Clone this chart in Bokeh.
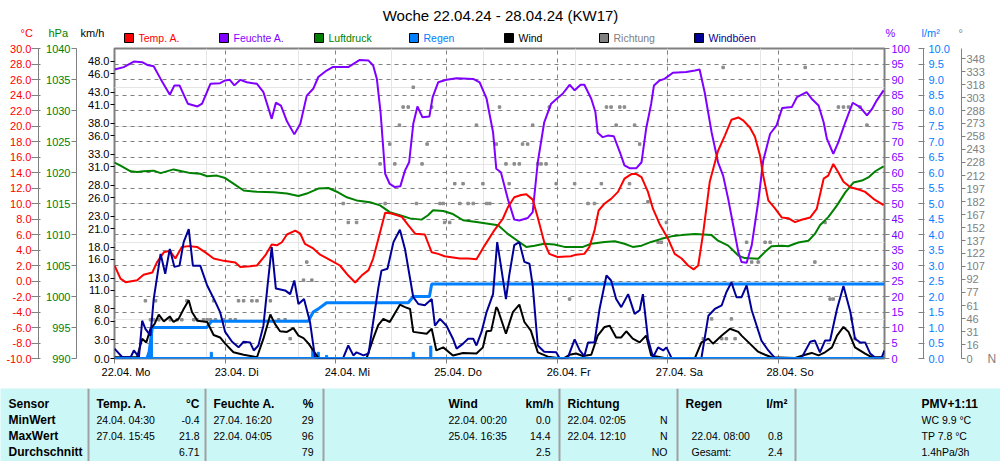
from bokeh.plotting import figure
from bokeh.models import (Range1d, LinearAxis, FixedTicker, NumeralTickFormatter, Grid,
                          Span, ColumnDataSource)
from bokeh.layouts import column
from bokeh.embed import file_html
from bokeh.resources import INLINE
from bokeh.core.properties import value

FONT = "Liberation Sans"
RED, PURPLE, GREEN, BLUE = "#FF0000", "#8000FF", "#008000", "#0080FF"
BLACK, GREY, NAVY = "#000000", "#808080", "#000099"
CYAN = "#CCF7F7"

TITLE = "Woche 22.04.24 - 28.04.24 (KW17)"

# ---------------- data (hours since 22.04. 00:00) ----------------
hum_h = [0, 2.0, 4.2, 6.0, 7.1, 8.5, 10.0, 12.0, 13.0, 14.1, 15.9, 18.0, 19.0, 20.8, 22.9, 24.0, 25.0,
         26.0, 27.3, 28.7, 30.9, 32.3, 34.1, 35.0, 36.1, 37.4, 39.0, 40.3, 41.7, 43.1, 44.2, 46.0, 47.3,
         50.7, 53.2, 55.1, 56.1, 56.9, 57.7, 58.7, 59.7, 60.8, 62.0, 63.0, 63.9, 64.8, 65.7, 66.8, 68.3,
         69.0, 70.2, 72.0, 74.2, 77.8, 79.2, 80.7, 82.1, 82.8, 83.8, 85.3, 86.7, 87.8, 89.6, 90.7, 91.8,
         93.2, 94.7, 96.1, 97.2, 98.7, 99.8, 101.1, 101.9, 103.4, 104.3, 104.8, 105.9, 107.0, 108.3,
         109.6, 110.6, 111.7, 113.2, 114.3, 115.3, 116.4, 117.0, 118.2, 119.3, 121.1, 124.0, 125.9,
         126.9, 128.0, 129.5, 130.9, 132.0, 133.1, 134.2, 135.3, 136.0, 137.1, 138.2, 139.6, 140.7,
         142.2, 143.6, 144.8, 146.9, 148.0, 150.1, 151.2, 152.7, 153.8, 154.5, 155.9, 157.0, 158.5,
         160.1, 161.7, 163.2, 164.3, 165.3, 166.8]
hum_v = [93.2, 94.0, 95.8, 95.6, 94.7, 94.3, 90.2, 85.1, 88.1, 88.1, 82.2, 81.3, 82.2, 88.6, 88.8, 89.7,
         89.9, 88.1, 89.9, 89.1, 88.6, 85.9, 77.3, 82.5, 81.6, 76.5, 72.3, 75.7, 84.8, 87.0, 90.8, 92.9,
         94.0, 94.0, 96.3, 96.1, 94.5, 90.2, 79.5, 59.6, 56.3, 55.3, 55.6, 60.6, 63.3, 75.7, 81.3, 77.8,
         78.1, 84.3, 89.1, 89.9, 90.4, 90.2, 89.1, 83.8, 73.0, 61.2, 60.1, 51.5, 44.8, 44.5, 45.3, 47.2,
         63.3, 76.2, 82.2, 84.0, 85.4, 88.3, 86.5, 88.3, 88.3, 83.8, 79.5, 72.8, 71.4, 71.9, 71.7, 66.6,
         62.3, 61.4, 61.4, 63.3, 74.1, 82.2, 88.1, 89.7, 90.2, 92.2, 92.4, 92.9, 93.2, 85.9, 73.0, 63.3,
         59.0, 51.5, 42.9, 34.3, 31.1, 30.9, 36.5, 50.4, 63.9, 72.5, 75.2, 80.8, 81.1, 84.3, 85.9, 83.8,
         81.6, 76.2, 70.9, 66.0, 69.8, 76.2, 82.5, 81.1, 78.4, 80.5, 83.2, 86.5]

temp_h = [0, 1.3, 2.4, 4.9, 6.3, 8.2, 9.2, 10.7, 12.0, 13.2, 14.6, 16.1, 17.9, 19.7, 21.5, 23.7, 26.2,
          27.3, 29.4, 30.9, 32.7, 34.1, 35.2, 36.3, 37.4, 39.2, 40.3, 41.3, 43.1, 44.6, 46.8, 48.9, 50.7,
          52.2, 53.6, 55.1, 56.1, 57.6, 58.7, 60.1, 62.3, 63.7, 65.2, 67.3, 68.8, 70.2, 71.6, 74.9, 76.7,
          78.5, 80.3, 82.1, 83.2, 84.2, 85.3, 86.7, 88.2, 89.3, 90.7, 91.8, 93.2, 94.3, 96.1, 99.0, 100.1,
          101.9, 103.0, 104.1, 105.0, 106.3, 107.7, 109.2, 110.6, 112.1, 113.2, 114.3, 115.7, 116.8, 118.2,
          120.1, 121.5, 123.0, 124.4, 125.6, 126.6, 127.7, 129.1, 130.9, 132.4, 133.8, 135.3, 136.4, 137.8,
          138.9, 140.0, 140.7, 141.8, 143.2, 144.7, 146.1, 147.6, 149.0, 150.9, 152.3, 153.8, 154.8, 155.9,
          157.0, 158.1, 159.6, 161.4, 162.8, 164.6, 166.8]
temp_v = [2.0, 0.3, -0.15, 0.1, 0.8, 1.1, 2.4, 3.7, 3.9, 2.9, 4.4, 4.5, 4.4, 3.7, 2.9, 2.6, 2.4, 1.8, 1.9,
          2.0, 3.3, 4.7, 4.6, 5.0, 6.0, 6.5, 6.1, 4.8, 4.2, 3.4, 2.7, 2.0, 0.7, -0.2, 0.7, 1.4, 2.9, 6.3,
          8.8, 8.7, 8.3, 7.2, 6.1, 6.0, 3.7, 3.5, 3.2, 2.9, 2.9, 2.8, 4.6, 6.3, 7.2, 8.0, 9.5, 10.8, 11.1,
          11.2, 10.5, 8.2, 5.0, 3.5, 3.1, 3.2, 3.4, 3.5, 4.4, 6.5, 9.1, 10.0, 10.6, 11.5, 13.2, 13.8, 13.8,
          13.4, 11.5, 9.3, 7.4, 5.4, 3.5, 2.9, 2.0, 1.5, 2.0, 6.3, 12.8, 16.8, 18.8, 20.8, 21.1, 20.7, 19.8,
          18.6, 16.2, 13.6, 10.4, 9.4, 8.2, 8.1, 7.6, 7.9, 8.2, 9.3, 13.2, 13.6, 15.1, 14.0, 12.8, 12.1,
          11.8, 11.5, 10.6, 9.8]

press_h = [0, 1.3, 3.5, 4.9, 6.3, 8.5, 10.0, 12.8, 14.6, 16.5, 18.6, 20.1, 22.2, 24.0, 25.8, 28.0, 30.9,
           34.5, 37.4, 39.9, 41.7, 44.2, 46.4, 48.2, 50.4, 52.5, 55.4, 57.6, 59.7, 61.9, 64.1, 66.6, 68.0,
           69.1, 71.3, 73.4, 75.6, 78.5, 81.4, 83.2, 85.3, 87.4, 89.3, 91.1, 93.2, 95.4, 97.6, 101.6, 103.4,
           106.3, 108.5, 110.6, 112.4, 114.3, 116.4, 118.6, 120.8, 123.0, 125.9, 129.5, 130.9, 133.1, 135.3,
           136.7, 139.6, 141.1, 142.5, 144.7, 146.1, 148.3, 150.5, 151.9, 153.0, 154.8, 156.7, 158.5, 160.3,
           162.1, 163.5, 165.0, 166.8]
press_v = [1021.6, 1021.1, 1020.2, 1020.1, 1020.2, 1020.3, 1019.9, 1020.5, 1020.2, 1019.9, 1019.8, 1019.4,
           1019.5, 1019.1, 1018.2, 1017.1, 1016.9, 1016.8, 1016.6, 1016.2, 1016.6, 1017.4, 1017.5, 1016.9,
           1016.0, 1015.5, 1015.2, 1014.7, 1013.6, 1013.1, 1012.6, 1012.4, 1013.1, 1013.9, 1013.8, 1013.3,
           1012.3, 1012.0, 1011.7, 1011.5, 1010.1, 1009.0, 1008.0, 1008.2, 1008.5, 1008.4, 1008.0, 1008.0,
           1008.5, 1008.8, 1008.9, 1008.5, 1008.0, 1008.2, 1008.8, 1009.3, 1009.7, 1009.9, 1010.1, 1009.9,
           1009.0, 1008.2, 1006.6, 1006.2, 1006.1, 1007.2, 1008.1, 1008.2, 1008.1, 1008.7, 1009.0, 1010.1,
           1011.5, 1012.8, 1014.7, 1016.8, 1018.4, 1018.7, 1019.2, 1020.2, 1021.0]

wind_h = [0, 2.7, 4.9, 6.0, 6.9, 7.8, 8.7, 9.6, 10.7, 12.0, 12.8, 13.9, 15.0, 16.1, 16.8, 18.0, 20.1, 21.5,
          22.9, 24.0, 25.8, 28.0, 30.9, 32.3, 33.8, 34.8, 35.9, 37.4, 38.8, 39.9, 41.0, 42.1, 43.1, 44.2,
          49.6, 54.7, 56.1, 57.2, 58.3, 59.7, 61.9, 63.0, 64.1, 64.8, 67.7, 68.8, 69.8, 71.3, 73.4, 75.6,
          78.5, 79.9, 80.7, 81.7, 82.8, 83.1, 84.9, 86.4, 87.8, 88.9, 90.3, 91.8, 94.0, 96.1, 97.6, 98.7,
          100.1, 101.6, 103.4, 104.8, 106.3, 107.4, 108.8, 109.9, 111.0, 112.4, 113.9, 115.3, 116.4, 119.3,
          125.9, 127.3, 128.8, 129.8, 131.7, 133.5, 135.3, 136.0, 137.8, 139.6, 141.1, 142.5, 147.6, 149.8,
          151.2, 152.7, 154.1, 155.6, 156.7, 158.1, 159.2, 160.6, 162.8, 164.3, 166.8]
wind_v = [0.2, 0.2, 0.2, 3.2, 2.6, 4.8, 5.6, 7.1, 6.0, 6.8, 5.9, 6.4, 8.0, 9.4, 7.5, 6.1, 5.9, 3.8, 3.4,
          2.4, 1.0, 0.6, 0.2, 3.2, 7.1, 5.6, 4.4, 4.3, 4.9, 3.7, 3.3, 2.4, 1.3, 0.1, 0.1, 0.1, 3.2, 5.4,
          6.4, 5.9, 8.7, 8.3, 8.0, 4.3, 4.0, 4.8, 1.3, 1.8, 0.5, 0.9, 0.8, 1.8, 4.4, 4.5, 8.3, 8.0, 4.0,
          7.5, 8.7, 5.9, 4.5, 1.0, 0.3, 0.1, 0.1, 0.6, 0.8, 0.4, 0.6, 3.7, 5.1, 5.3, 3.4, 3.4, 4.4, 3.2,
          2.6, 3.7, 0.5, 0.1, 0.1, 2.6, 3.2, 2.4, 3.7, 4.8, 4.3, 3.7, 2.4, 1.1, 0.6, 0.2, 0.1, 0.6, 0.9,
          0.5, 1.0, 1.8, 3.7, 5.1, 4.3, 1.8, 0.8, 0.2, 0.2]

gust_h = [0, 1.7, 3.5, 4.2, 5.3, 6.0, 6.7, 7.8, 8.5, 10.0, 11.0, 12.0, 13.0, 14.1, 15.0, 16.1, 17.0, 18.6,
          20.1, 21.9, 22.9, 24.0, 25.5, 26.9, 28.0, 29.4, 30.2, 31.2, 32.3, 33.2, 34.1, 35.0, 37.0, 38.1,
          39.0, 39.9, 41.1, 42.4, 43.5, 49.6, 50.7, 51.8, 52.5, 54.0, 55.1, 56.1, 57.2, 57.9, 59.2, 60.5,
          61.9, 63.0, 64.8, 65.9, 67.3, 68.8, 69.5, 70.6, 72.0, 73.4, 74.2, 75.6, 76.7, 77.8, 78.5, 79.6,
          80.7, 82.1, 83.0, 83.8, 84.9, 85.6, 86.7, 87.8, 88.9, 90.0, 90.7, 91.8, 93.2, 95.8, 96.5, 98.3,
          99.8, 100.9, 101.9, 102.7, 104.1, 105.2, 106.7, 107.7, 108.8, 109.9, 111.4, 112.8, 113.9, 114.6,
          115.7, 116.8, 117.9, 119.0, 119.7, 120.8, 127.3, 128.8, 130.2, 131.7, 132.7, 133.8, 134.9, 136.0,
          137.1, 138.2, 140.3, 141.8, 143.2, 149.0, 150.9, 151.9, 153.0, 154.1, 155.2, 156.7, 158.1, 159.6,
          160.6, 161.7, 162.8, 163.9, 165.0, 166.4, 167.0]
gust_v = [1.6, 0.2, 0.2, 1.3, 0.2, 6.1, 4.8, 3.7, 9.6, 16.9, 13.7, 17.7, 14.8, 15.0, 18.8, 20.9, 15.0, 15.0,
          11.8, 9.1, 7.5, 4.3, 2.7, 1.8, 2.7, 2.6, 1.3, 2.1, 5.3, 11.8, 18.0, 11.3, 11.0, 10.4, 12.6, 8.8,
          9.6, 5.9, 0.1, 0.1, 2.1, 0.5, 1.0, 0.5, 0.8, 5.9, 11.3, 14.2, 14.5, 18.8, 20.8, 17.7, 9.9, 8.8,
          8.6, 9.6, 5.3, 6.4, 5.3, 3.2, 1.6, 2.4, 3.2, 3.2, 2.1, 4.3, 7.5, 10.4, 18.8, 15.0, 9.6, 13.4,
          18.3, 18.8, 15.6, 15.3, 11.8, 2.1, 1.1, 1.0, 0.1, 0.1, 3.1, 1.3, 0.4, 2.6, 2.6, 8.0, 13.4, 12.6,
          9.6, 8.3, 10.4, 7.2, 7.8, 10.4, 3.2, 0.2, 1.8, 1.3, 1.8, 0.1, 0.1, 6.9, 8.0, 8.6, 10.7, 12.3, 9.9,
          9.9, 11.8, 7.8, 2.9, 1.3, 0.1, 0.1, 2.7, 2.9, 1.0, 2.9, 2.9, 8.0, 11.7, 7.5, 3.2, 2.6, 2.6, 0.8,
          0.1, 0.2, 1.3]

rain_sum_h = [0, 7.0, 7.5, 8.2, 20.0, 21.0, 42.0, 43.1, 44.2, 46.0, 63.7, 64.8, 68.3, 68.8, 167]
rain_sum_v = [0, 0, 0.2, 1.0, 1.0, 1.2, 1.2, 1.5, 1.6, 1.8, 1.8, 2.0, 2.0, 2.4, 2.4]
rain_h = [7.5, 8.0, 21.0, 43.0, 44.2, 46.0, 64.8, 68.6]
rain_v = [0.2, 0.8, 0.2, 0.3, 0.2, 0.1, 0.2, 0.4]

dir_h = [6.7, 8.9, 7.8, 8.5, 9.6, 12.1, 13.6, 14.6, 15.7, 17.2, 17.9, 19.3, 20.1, 20.8, 21.5, 21.9, 23.7,
         25.1, 26.2, 26.9, 28.0, 29.8, 30.9, 33.8, 35.6, 37.0, 38.1, 41.0, 41.7, 42.8, 49.6, 50.7, 52.5,
         57.6, 58.7, 59.7, 60.8, 61.8, 62.6, 63.7, 64.8, 65.5, 66.7, 67.8, 68.8, 70.6, 71.3, 71.6, 72.7,
         73.8, 74.9, 75.6, 76.7, 77.8, 78.5, 79.9, 80.7, 81.4, 82.8, 83.5, 84.9, 85.6, 86.7, 87.8, 88.5,
         89.6, 90.7, 91.8, 92.5, 93.6, 94.3, 95.8, 98.7, 99.8, 102.7, 104.1, 105.6, 106.7, 107.7, 108.8,
         109.6, 110.6, 111.7, 112.8, 113.9, 115.7, 117.9, 118.6, 119.7, 127.7, 129.5, 131.7, 132.0, 132.7,
         133.8, 134.6, 137.1, 138.2, 139.6, 141.1, 142.2, 149.8, 151.9, 154.1, 155.2, 155.9, 157.0, 158.1,
         159.2, 159.9, 160.6, 161.7, 163.2]
dir_v = [67, 67, 45, 45, 45, 45, 45, 45, 67, 45, 45, 45, 45, 45, 67, 45, 45, 45, 45, 67, 67, 67, 67, 67,
         45, 45, 23, 91, 112, 91, 180, 158, 158, 226, 180, 249, 226, 271, 292, 292, 315, 180, 226, 249,
         292, 180, 180, 158, 158, 203, 180, 203, 180, 180, 271, 203, 180, 180, 249, 292, 226, 203, 226,
         226, 249, 249, 271, 226, 226, 226, 292, 203, 69, 203, 180, 180, 203, 292, 292, 271, 292, 292,
         203, 271, 249, 182, 135, 135, 158, 23, 46, 23, 338, 23, 46, 23, 135, 112, 112, 135, 135, 338,
         112, 158, 69, 69, 292, 292, 292, 46, 23, 292, 271]

# axes ticks / labels
temp_ticks = list(range(-10, 31, 2))
press_ticks = list(range(990, 1041, 5))
kmh_ticks = [0, 3, 6, 8, 11, 13, 16, 18, 21, 23, 26, 28, 31, 33, 36, 38, 41, 43, 46, 48]
hum_ticks = list(range(0, 101, 5))
rain_ticks = [i * 0.5 for i in range(21)]
dir_ticks = [0, 16, 31, 46, 61, 77, 92, 107, 122, 137, 152, 167, 182, 197, 212, 228, 243, 258, 273,
             288, 303, 318, 333, 348]
day_hours = [0, 24, 48, 72, 96, 120, 144]
day_labels = ["22.04. Mo", "23.04. Di", "24.04. Mi", "25.04. Do", "26.04. Fr", "27.04. Sa", "28.04. So"]

legend_names = ["Temp. A.", "Feuchte A.", "Luftdruck", "Regen", "Wind", "Richtung", "Windböen"]
legend_colors = [RED, PURPLE, GREEN, BLUE, BLACK, GREY, NAVY]
legend_text_colors = [RED, PURPLE, GREEN, BLUE, BLACK, GREY, NAVY]
unit_texts = ["°C", "hPa", "km/h", "%", "l/m²", "°"]
unit_colors = [RED, GREEN, BLACK, PURPLE, BLUE, GREY]

W = 1000
HEAD_H, OVERLAP, TABLE_H = 46, 16, 73
CHART_TOP = HEAD_H - OVERLAP          # page y where the chart canvas starts
CHART_H = 388 - CHART_TOP

# ---------------- header (title, units, legend) ----------------
hd = figure(width=W, height=HEAD_H, x_range=Range1d(0, W), y_range=Range1d(HEAD_H, 0),
            output_backend="svg", toolbar_location=None, x_axis_location=None, y_axis_location=None,
            min_border=0)
hd.frame_align = False
hd.outline_line_color = None
hd.xgrid.visible = False
hd.ygrid.visible = False
hd.text(x=[500], y=[15], text=[TITLE], text_font=value(FONT), text_font_size=value("15px"),
        text_align="center", text_baseline="middle", text_color=BLACK)
unit_x = [20, 48, 80, 885, 921, 958]
hd.text(x=unit_x, y=[32] * len(unit_x), text=unit_texts, text_color=unit_colors,
        text_font=value(FONT), text_font_size=value("11px"), text_align="left", text_baseline="middle")
leg_x = [124 + 95 * i for i in range(len(legend_names))]
hd.quad(left=leg_x, right=[x + 9 for x in leg_x], top=[33] * 7, bottom=[42] * 7,
        fill_color=legend_colors, line_color=BLACK, line_width=1)
hd.text(x=[x + 14 for x in leg_x], y=[37.5] * 7, text=legend_names, text_color=legend_text_colors,
        text_font=value(FONT), text_font_size=value("10.5px"), text_align="left", text_baseline="middle")

# ---------------- chart ----------------
p = figure(width=W, height=CHART_H, x_range=Range1d(0, 167), y_range=Range1d(-10, 30),
           output_backend="svg", toolbar_location=None, x_axis_location=None, y_axis_location=None,
           min_border_left=114, min_border_right=116, min_border_top=48 - CHART_TOP,
           min_border_bottom=30, margin=(-OVERLAP, 0, 0, 0))
p.frame_align = False
p.extra_y_ranges = {"wind": Range1d(0, 50.08), "press": Range1d(990, 1040), "hum": Range1d(0, 100),
                    "rain": Range1d(0, 10), "dir": Range1d(0, 360)}
p.outline_line_color = GREY
p.outline_line_width = 2
p.background_fill_color = "white"
p.border_fill_color = None

p.add_layout(Grid(dimension=1, ticker=FixedTicker(ticks=temp_ticks), grid_line_color=GREY,
                  grid_line_dash="4 4", grid_line_width=1))
p.add_layout(Grid(dimension=0, ticker=FixedTicker(ticks=day_hours[1:]), grid_line_color=GREY,
                  grid_line_dash="4 4", grid_line_width=1))


def style(ax, color, line_color, tick_color, tin, tout, standoff, pad=None, size="11px"):
    ax.major_label_text_color = color
    ax.major_label_text_font = FONT
    ax.major_label_text_font_size = size
    ax.axis_line_color = line_color
    ax.axis_line_width = 1
    ax.major_tick_line_color = tick_color
    ax.minor_tick_line_color = None
    ax.major_tick_in = tin
    ax.major_tick_out = tout
    ax.major_label_standoff = standoff
    if pad:
        ax.axis_label = " "
        ax.axis_label_text_color = None
        ax.axis_label_standoff = pad[0]
        ax.axis_label_text_font_size = "%dpx" % pad[1]


ax_kmh = LinearAxis(y_range_name="wind", ticker=FixedTicker(ticks=kmh_ticks),
                    formatter=NumeralTickFormatter(format="0.0"))
style(ax_kmh, BLACK, None, BLACK, 0, 4, 1, pad=(1, 4))
ax_hpa = LinearAxis(y_range_name="press", ticker=FixedTicker(ticks=press_ticks),
                    formatter=NumeralTickFormatter(format="0"))
style(ax_hpa, GREEN, GREY, GREY, 0, 5, 1, pad=(0, 1))
ax_c = LinearAxis(ticker=FixedTicker(ticks=temp_ticks), formatter=NumeralTickFormatter(format="0.0"))
style(ax_c, RED, GREY, GREY, 2, 7, 0)
p.add_layout(ax_kmh, "left")
p.add_layout(ax_hpa, "left")
p.add_layout(ax_c, "left")

ax_hum = LinearAxis(y_range_name="hum", ticker=FixedTicker(ticks=hum_ticks),
                    formatter=NumeralTickFormatter(format="0"))
style(ax_hum, PURPLE, None, GREY, 0, 5, 2, pad=(2, 5))
ax_rain = LinearAxis(y_range_name="rain", ticker=FixedTicker(ticks=rain_ticks),
                     formatter=NumeralTickFormatter(format="0.0"))
style(ax_rain, BLUE, GREY, GREY, 5, 1, 4, pad=(0, 5))
ax_dir = LinearAxis(y_range_name="dir", ticker=FixedTicker(ticks=dir_ticks),
                    formatter=NumeralTickFormatter(format="0"))
style(ax_dir, GREY, GREY, GREY, 0, 4, 1)
ax_n = LinearAxis(y_range_name="dir", ticker=FixedTicker(ticks=[0]), major_label_overrides={0: "N"})
style(ax_n, GREY, None, None, 0, 0, 0, size="12px")
p.add_layout(ax_hum, "right")
p.add_layout(ax_rain, "right")
p.add_layout(ax_dir, "right")
p.add_layout(ax_n, "right")

xa1 = LinearAxis(ticker=FixedTicker(ticks=day_hours))
style(xa1, None, None, GREY, 0, 5, 0)
xa1.major_label_text_font_size = "1px"
p.add_layout(xa1, "below")
label_pos = [h + 2.5 for h in day_hours]
xa2 = LinearAxis(ticker=FixedTicker(ticks=label_pos),
                 major_label_overrides={k: v for k, v in zip(label_pos, day_labels)})
style(xa2, BLACK, None, None, 0, 0, 2)
p.add_layout(xa2, "below")

# series
p.add_layout(Span(location=0, dimension="width", y_range_name="rain", line_color=BLUE, line_width=3))
p.vbar(x=rain_h, top=rain_v, bottom=0, width=0.45, y_range_name="rain", color=BLUE)
p.scatter(dir_h, dir_v, marker="square", size=2.5, color="#8C8C8C", y_range_name="dir")
p.line(press_h, press_v, y_range_name="press", color=GREEN, line_width=2)
p.line(hum_h, hum_v, y_range_name="hum", color=PURPLE, line_width=2)
p.line(temp_h, temp_v, color=RED, line_width=2)
p.line(rain_sum_h, rain_sum_v, y_range_name="rain", color=BLUE, line_width=3)
p.line(wind_h, wind_v, y_range_name="wind", color=BLACK, line_width=2)
p.line(gust_h, gust_v, y_range_name="wind", color=NAVY, line_width=2)

# ---------------- table ----------------
t = figure(width=W, height=TABLE_H, x_range=Range1d(0, W), y_range=Range1d(461, 388),
           output_backend="svg", toolbar_location=None, x_axis_location=None, y_axis_location=None,
           min_border=0)
t.frame_align = False
t.outline_line_color = None
t.background_fill_color = CYAN
t.border_fill_color = CYAN
t.xgrid.visible = False
t.ygrid.visible = False
seps = [88, 205, 323, 559, 677, 795]
t.segment(x0=seps, y0=[388] * 6, x1=seps, y1=[461] * 6, color="#A0A0A0", line_width=2)

R = [403, 419, 435, 451]
bold_left = [("Sensor", 8, 0), ("MinWert", 8, 1), ("MaxWert", 8, 2), ("Durchschnitt", 8, 3),
             ("Temp. A.", 96, 0), ("Feuchte A.", 213, 0), ("Wind", 448, 0), ("Richtung", 567, 0),
             ("Regen", 685, 0), ("PMV+1:11", 921, 0)]
bold_right = [("°C", 199, 0), ("%", 313, 0), ("km/h", 553, 0), ("l/m²", 787, 0)]
reg_left = [("24.04. 04:30", 96, 1), ("27.04. 15:45", 96, 2), ("27.04. 16:20", 213, 1),
            ("22.04. 04:05", 213, 2), ("22.04. 00:20", 448, 1), ("25.04. 16:35", 448, 2),
            ("22.04. 02:05", 567, 1), ("22.04. 12:10", 567, 2), ("22.04. 08:00", 691, 2),
            ("Gesamt:", 691, 3), ("WC 9.9 °C", 921, 1), ("TP 7.8 °C", 921, 2), ("1.4hPa/3h", 921, 3)]
reg_right = [("-0.4", 199, 1), ("21.8", 199, 2), ("6.71", 199, 3), ("29", 313, 1), ("96", 313, 2),
             ("79", 313, 3), ("0.0", 550, 1), ("14.4", 550, 2), ("2.5", 550, 3), ("N", 667, 1),
             ("N", 667, 2), ("NO", 667, 3), ("0.8", 782, 2), ("2.4", 782, 3)]


def ttext(items, align, bold):
    src = ColumnDataSource(dict(x=[i[1] for i in items], y=[R[i[2]] for i in items],
                                text=[i[0] for i in items]))
    t.text(x="x", y="y", text="text", source=src, text_font=value(FONT),
           text_font_size=value("12px" if bold else "10.5px"), text_align=align, text_baseline="middle",
           text_font_style="bold" if bold else "normal", text_color=BLACK)


ttext(bold_left, "left", True)
ttext(bold_right, "right", True)
ttext(reg_left, "left", False)
ttext(reg_right, "right", False)

layout = column(hd, p, t)
open("out.html", "w").write(file_html(layout, INLINE))
